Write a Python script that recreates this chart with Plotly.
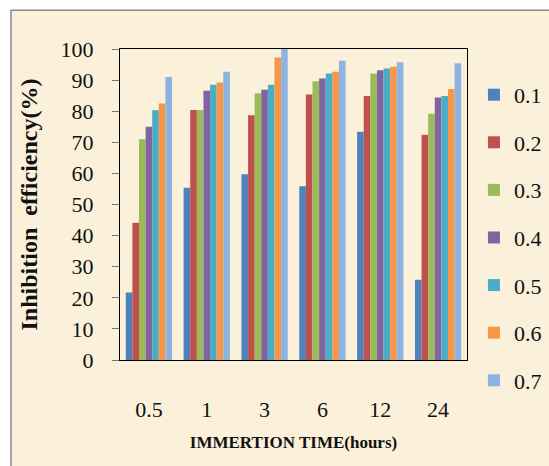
import plotly.graph_objects as go

categories = ["0.5", "1", "3", "6", "12", "24"]
series_names = ["0.1", "0.2", "0.3", "0.4", "0.5", "0.6", "0.7"]
s01 = [21.7, 55.4, 59.7, 55.9, 73.4, 25.8]
s02 = [44.1, 80.4, 78.7, 85.4, 84.9, 72.4]
s03 = [71.0, 80.4, 85.8, 89.6, 92.1, 79.2]
s04 = [75.0, 86.6, 86.9, 90.5, 93.2, 84.4]
s05 = [80.3, 88.5, 88.5, 92.1, 93.7, 84.9]
s06 = [82.5, 89.2, 97.3, 92.7, 94.3, 87.1]
s07 = [91.0, 92.7, 100.0, 96.2, 95.7, 95.4]
series_values = [s01, s02, s03, s04, s05, s06, s07]
colors = ["#4F81BD", "#C0504D", "#9BBB59", "#8064A2", "#4BACC6", "#F79646", "#8DB3E2"]
y_ticks = list(range(0, 101, 10))

font_family = "Liberation Serif"

fig = go.Figure()
for name, vals, c in zip(series_names, series_values, colors):
    fig.add_trace(go.Bar(x=categories, y=vals, name=name, marker_color=c,
                         marker_line_width=0, legendgroup=name))

fig.update_layout(
    width=549, height=466,
    margin=dict(l=120, r=82, t=49, b=106, autoexpand=False),
    paper_bgcolor="#FFFFFF",
    plot_bgcolor="#E8E8EC",
    barmode="group",
    bargap=0.2,
    bargroupgap=0,
    font=dict(family=font_family, color="#111111", size=22),
    showlegend=True,
    legend=dict(x=1.02, xanchor="left", y=0.92, yanchor="top",
                font=dict(size=22, family=font_family), tracegroupgap=16,
                bgcolor="rgba(0,0,0,0)", itemwidth=30, maxheight=420),
    xaxis=dict(type="category", showline=True, linecolor="#000000", linewidth=1,
               mirror=True, ticks="", ticklabelstandoff=30,
               tickfont=dict(size=22, family=font_family),
               title=dict(text="<b>IMMERTION TIME(hours)</b>", standoff=14,
                          font=dict(size=17, family=font_family))),
    yaxis=dict(range=[0, 100], tickvals=y_ticks, showline=True, linecolor="#000000",
               linewidth=1, mirror=True, ticks="outside", ticklen=7, tickcolor="#777777",
               showgrid=False, zeroline=False, ticklabelstandoff=14,
               tickfont=dict(size=22, family=font_family),
               title=dict(text="<b>Inhibition\u00a0 efficiency(%)</b>", standoff=16,
                          font=dict(size=24, family=font_family))),
    shapes=[dict(type="rect", xref="paper", yref="paper",
                 x0=-0.314, x1=1.27, y0=-0.386, y1=1.125,
                 fillcolor="#FBF0DA",
                 line=dict(color="#8A8A8A", width=1.5), layer="below")],
)

fig.write_html("out.html")
